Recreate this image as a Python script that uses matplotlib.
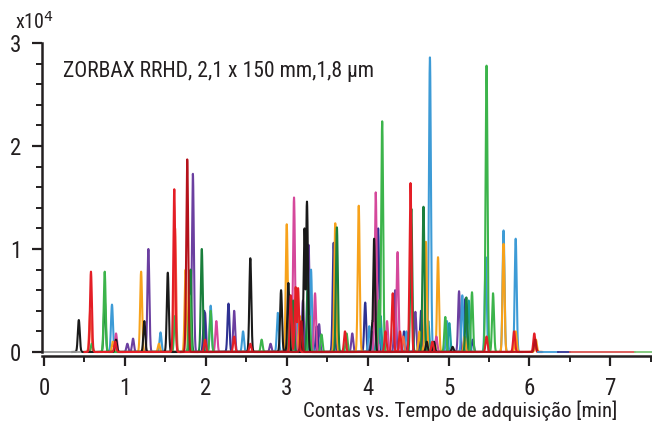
import numpy as np
import matplotlib
matplotlib.use("Agg")
import matplotlib.pyplot as plt
from matplotlib.ticker import MultipleLocator

# ---------------- data (retention time [min], height [x10^4 counts]) ----------------
rt_black = [0.43, 0.89, 1.24, 1.53, 2.55, 2.93, 3.02, 3.22, 3.25, 4.06, 4.08, 4.73, 4.82, 5.05]
h_black = [0.31, 0.12, 0.30, 0.77, 0.91, 0.60, 0.67, 1.20, 1.46, 0.30, 1.10, 0.10, 0.10, 0.05]

rt_red = [0.58, 0.88, 1.61, 1.99, 2.35, 2.55, 3.05, 3.11, 3.14, 3.72, 4.22, 4.31, 4.40, 4.53, 4.80, 5.47, 5.81, 6.06]
h_red = [0.78, 0.10, 1.58, 0.12, 0.15, 0.08, 0.55, 0.63, 0.62, 0.20, 0.20, 0.57, 0.20, 1.64, 0.10, 0.15, 0.20, 0.18]

rt_darkred = [1.77, 3.18, 6.07]
h_darkred = [1.87, 0.30, 0.12]

rt_salmon = [0.57, 1.62, 4.44]
h_salmon = [0.40, 1.20, 0.15]

rt_orange = [0.85, 1.20, 1.42, 1.75, 3.00, 3.16, 3.60, 3.89, 4.64, 4.72, 4.87, 5.20, 5.68, 5.83, 6.08]
h_orange = [0.10, 0.78, 0.08, 0.80, 1.24, 0.35, 1.25, 1.42, 0.20, 1.07, 0.92, 0.15, 1.05, 0.20, 0.12]

rt_green = [0.59, 0.75, 1.62, 1.80, 2.06, 2.69, 3.04, 3.28, 3.43, 3.74, 4.14, 4.18, 4.96, 5.29, 5.47, 5.55]
h_green = [0.08, 0.78, 0.35, 0.55, 0.40, 0.12, 0.55, 0.35, 0.17, 0.18, 0.50, 2.24, 0.34, 0.58, 2.78, 0.57]

rt_darkgreen = [0.75, 1.81, 1.95, 3.08, 3.26, 3.62, 4.54, 4.69, 5.22]
h_darkgreen = [0.50, 0.80, 1.00, 0.50, 0.70, 1.21, 1.39, 1.41, 0.53]

rt_lightblue = [0.84, 1.44, 2.06, 2.46, 2.89, 3.14, 3.30, 4.02, 4.15, 4.48, 4.77, 4.98, 5.17, 5.46, 5.68, 5.83]
h_lightblue = [0.46, 0.19, 0.45, 0.20, 0.38, 0.35, 0.80, 0.25, 0.30, 0.20, 2.86, 0.30, 0.55, 0.92, 1.18, 1.10]

rt_darkblue = [1.98, 2.28, 3.37, 3.58, 3.97, 4.13, 4.45, 4.66, 5.21, 5.30]
h_darkblue = [0.40, 0.47, 0.25, 1.06, 0.48, 1.20, 0.20, 0.40, 0.52, 0.12]

rt_purple = [1.03, 1.10, 1.29, 1.84, 1.99, 2.35, 2.80, 3.20, 3.27, 3.40, 3.81, 4.05, 4.34, 4.59, 5.13]
h_purple = [0.08, 0.13, 1.00, 1.73, 0.38, 0.40, 0.08, 0.50, 1.04, 0.27, 0.18, 0.20, 0.60, 0.39, 0.59]

rt_magenta = [0.89, 2.13, 3.09, 3.35, 4.10, 4.24, 4.37, 4.85]
h_magenta = [0.18, 0.30, 1.50, 0.57, 1.55, 0.30, 0.97, 0.15]

rt_teal = [3.07, 4.12, 4.16, 4.75, 5.01, 5.25]
h_teal = [0.45, 0.35, 0.35, 0.30, 0.28, 0.50]

# baseline pieces at the start and end of the run
base_start = [0.00, 6.10, 6.35, 6.50, 7.30]
base_end = [0.45, 6.35, 6.50, 7.30, 7.55]

xticks = [0, 1, 2, 3, 4, 5, 6, 7]
yticks = [0, 1, 2, 3]
annotation = "ZORBAX RRHD, 2,1 x 150 mm,1,8 µm"
xlabel = "Contas vs. Tempo de adquisição [min]"

# ---------------- styles ----------------
series = [
    (rt_purple, h_purple, "#6b3fa0"),
    (rt_darkblue, h_darkblue, "#2e3192"),
    (rt_lightblue, h_lightblue, "#3d9bd6"),
    (rt_teal, h_teal, "#1b9e9e"),
    (rt_orange, h_orange, "#f7a21b"),
    (rt_salmon, h_salmon, "#f26b4a"),
    (rt_magenta, h_magenta, "#d5489b"),
    (rt_darkgreen, h_darkgreen, "#1a7f3c"),
    (rt_green, h_green, "#3cb44b"),
    (rt_black, h_black, "#1a1a1a"),
    (rt_red, h_red, "#e41e26"),
    (rt_darkred, h_darkred, "#b5121b"),
]
base_colors = ["#9a9a9a", "#3d9bd6", "#2e3192", "#d9534f", "#7cc576"]

plt.rcParams['font.family'] = ['Liberation Sans Narrow', 'Roboto Condensed', 'Liberation Sans', 'DejaVu Sans']

W, H = 652, 423
fig = plt.figure(figsize=(W / 100, H / 100), dpi=100)
ax = fig.add_axes([42 / W, 1 - 356 / H, 610 / W, 313 / H])

t = np.arange(0.0, 7.55, 0.0005)
sigma = 0.012
for rts, hs, col in series:
    lo, hi = min(rts) - 0.08, max(rts) + 0.08
    tt = t[(t >= lo) & (t <= hi)]
    y = np.zeros_like(tt)
    for r, h in zip(rts, hs):
        y = np.maximum(y, h * np.exp(-0.5 * ((tt - r) / sigma) ** 2))
    ax.plot(tt, y, color=col, lw=1.5, solid_joinstyle='round')

for s, e, c in zip(base_start, base_end, base_colors):
    ax.plot([s, e], [0, 0], color=c, lw=1.3)

ax.set_xlim(-0.025, 7.515)
ax.set_ylim(-0.039, 3.0)

spine_col = "#231f20"
for side in ("top", "right"):
    ax.spines[side].set_visible(False)
ax.spines["left"].set_bounds(0, 3)
for side in ("left", "bottom"):
    ax.spines[side].set_color(spine_col)
    ax.spines[side].set_linewidth(1.8)

ax.set_xticks(xticks)
ax.set_yticks(yticks)
ax.xaxis.set_minor_locator(MultipleLocator(0.5))
ax.yaxis.set_minor_locator(MultipleLocator(0.2))
ax.tick_params(axis="both", which="major", direction="out", length=7, width=1.6,
               color=spine_col, labelsize=16.5, labelcolor="#231f20")
ax.tick_params(axis="both", which="minor", direction="out", length=4, width=1.4, color=spine_col)
ax.tick_params(axis="y", which="major", pad=8)
ax.tick_params(axis="x", which="major", pad=8)

fig.text(15 / W, 1 - 22 / H, r"x10$^{4}$", fontsize=14.5, color="#231f20", va="center", ha="left")
fig.text(63 / W, 1 - 72 / H, annotation, fontsize=15.6, color="#231f20", va="center", ha="left")
fig.text(617 / W, 1 - 411 / H, xlabel, fontsize=15, color="#231f20", va="center", ha="right")

fig.savefig("out.png", dpi=100)
